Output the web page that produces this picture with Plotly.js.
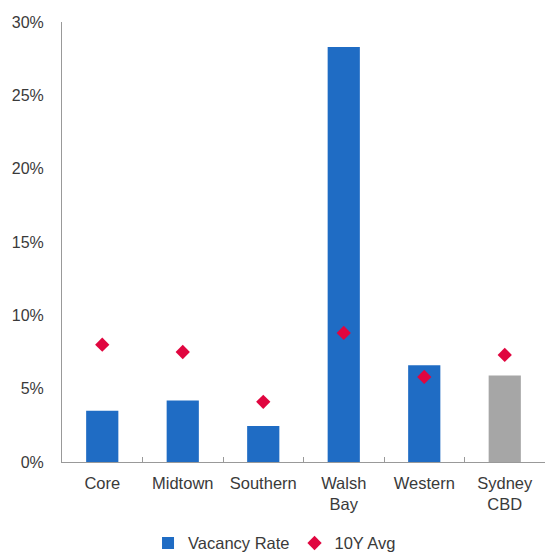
<!DOCTYPE html>
<html>
<head>
<meta charset="utf-8">
<script src="https://cdn.plot.ly/plotly-3.0.1.min.js"></script>
<style>html,body{margin:0;padding:0;background:#fff;}#chart{width:547px;height:556px;}</style>
</head>
<body>
<div id="chart"></div>
<script>
var categories = ["Core", "Midtown", "Southern", "Walsh<br>Bay", "Western", "Sydney<br>CBD"];
var vacancyRate = [3.5, 4.2, 2.45, 28.3, 6.6, 5.9];
var tenYearAvg = [8.0, 7.5, 4.1, 8.8, 5.8, 7.3];
var barColors = ["#1f6cc4", "#1f6cc4", "#1f6cc4", "#1f6cc4", "#1f6cc4", "#a6a6a6"];
var yTickVals = [0, 5, 10, 15, 20, 25, 30];
var yTickText = ["0%", "5%", "10%", "15%", "20%", "25%", "30%"];

var traces = [
  {
    type: "bar", name: "Vacancy Rate", x: categories, y: vacancyRate,
    marker: {color: barColors}, width: 0.4
  },
  {
    type: "scatter", mode: "markers", name: "10Y Avg", x: categories, y: tenYearAvg,
    marker: {symbol: "diamond", size: 11, color: "#e0063f"}
  }
];

var layout = {
  width: 547, height: 556,
  margin: {l: 62, r: 2, t: 22, b: 94, autoexpand: false},
  paper_bgcolor: "#fff", plot_bgcolor: "#fff",
  font: {family: "Liberation Sans, Arial, sans-serif", size: 16.5, color: "#3a3a3a"},
  showlegend: true,
  legend: {orientation: "h", x: 0.44, xanchor: "center", y: -0.145, yanchor: "top",
           font: {size: 16.5, color: "#3a3a3a"}, itemwidth: 30, tracegroupgap: 0},
  xaxis: {
    type: "category", showline: true, linecolor: "#999", linewidth: 1,
    ticks: "inside", tickson: "boundaries", ticklen: 5, tickcolor: "#999",
    showgrid: false, zeroline: false, ticklabelstandoff: 6
  },
  yaxis: {
    range: [0, 30], tickvals: yTickVals, ticktext: yTickText,
    showline: true, linecolor: "#999", linewidth: 1, ticks: "",
    showgrid: false, zeroline: false, ticklabelstandoff: 14,
    tickfont: {size: 16}
  }
};

Plotly.newPlot("chart", traces, layout, {displayModeBar: false, staticPlot: true});
</script>
</body>
</html>
